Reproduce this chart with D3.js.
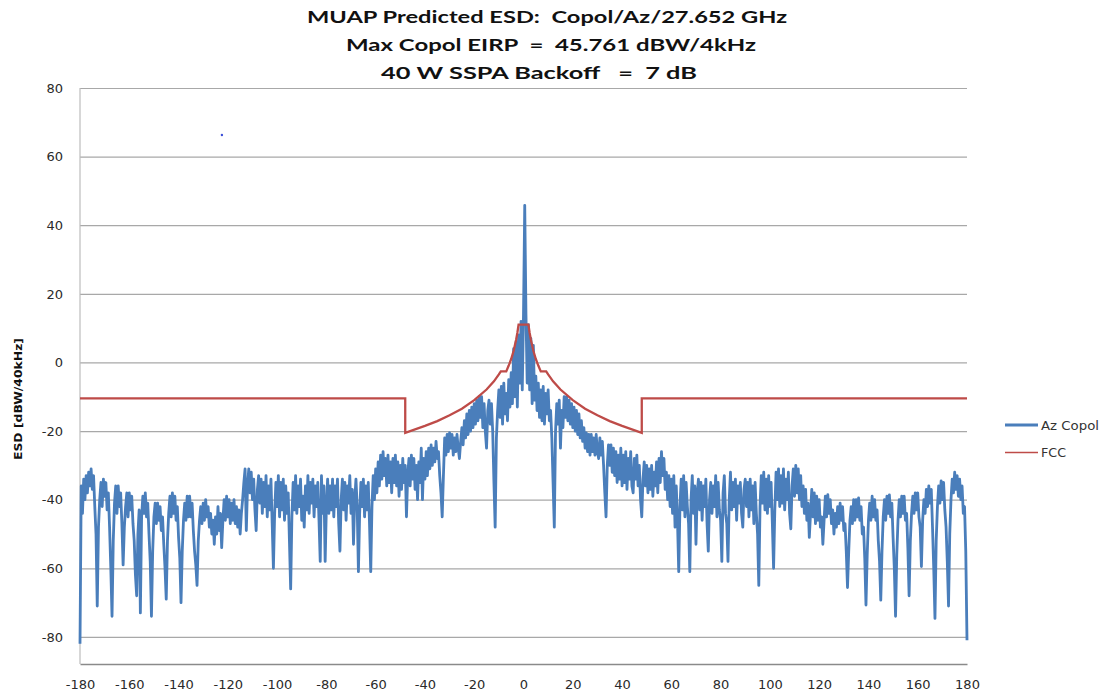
<!DOCTYPE html>
<html><head><meta charset="utf-8">
<script src="https://cdn.jsdelivr.net/npm/d3@7"></script>
<style>body{margin:0;background:#fff}svg{display:block}</style>
</head><body>
<svg id="chart" width="1102" height="698"></svg>
<script>
// ---------------- DATA ----------------
const titleLines = ["MUAP Predicted ESD:  Copol/Az/27.652 GHz", "Max Copol EIRP  =  45.761 dBW/4kHz", "40 W SSPA Backoff   =  7 dB"];
const yAxisTitle = "ESD [dBW/40kHz]";
const yTicks = [80, 60, 40, 20, 0, -20, -40, -60, -80];
const xTicks = [-180, -160, -140, -120, -100, -80, -60, -40, -20, 0, 20, 40, 60, 80, 100, 120, 140, 160, 180];
const seriesNames = ["Az Copol", "FCC"];

// FCC mask (angle deg, dBW/40kHz)
const fccAngles = [-180, -48, -48, -40, -35, -30, -25, -20, -15, -12, -10, -9.2, -7, -6, -5, -4, -3, -2.5, -2, 2, 2.5, 3, 4, 5, 6, 7, 9.2, 10, 12, 15, 20, 25, 30, 35, 40, 48, 48, 180];
const fccValues = [-10.5, -10.5, -20.5, -18.5, -17.1, -15.4, -13.5, -11.0, -7.9, -5.5, -3.5, -2.6, -2.6, -0.9, 1.0, 3.4, 6.6, 8.6, 11.0, 11.0, 8.6, 6.6, 3.4, 1.0, -0.9, -2.6, -2.6, -3.5, -5.5, -7.9, -11.0, -13.5, -15.4, -17.1, -18.5, -20.5, -10.5, -10.5];

const azCopol = [
[-180,-82],[-179.5,-36],[-179,-44],[-178.5,-34],[-178,-40],[-177.5,-33],[-177,-38],[-176.5,-32],[-176,-36],[-175.5,-31],
[-175,-37],[-174.5,-33],[-174,-42],[-173.5,-50],[-173,-71],[-172.5,-48],[-172,-40],[-171.5,-35],[-171,-42],[-170.5,-34],
[-170,-39],[-169.5,-35],[-169,-43],[-168.5,-38],[-168,-48],[-167.5,-60],[-167,-74],[-166.5,-52],[-166,-41],[-165.5,-36],
[-165,-44],[-164.5,-36],[-164,-42],[-163.5,-38],[-163,-47],[-162.5,-59],[-162,-48],[-161.5,-42],[-161,-38],[-160.5,-45],
[-160,-38],[-159.5,-43],[-159,-39],[-158.5,-47],[-158,-52],[-157.5,-62],[-157,-68],[-156.5,-50],[-156,-43],[-155.5,-73],
[-155,-45],[-154.5,-39],[-154,-44],[-153.5,-38],[-153,-45],[-152.5,-41],[-152,-50],[-151.5,-58],[-151,-74],[-150.5,-55],
[-150,-45],[-149.5,-41],[-149,-47],[-148.5,-41],[-148,-46],[-147.5,-42],[-147,-49],[-146.5,-45],[-146,-53],[-145.5,-60],
[-145,-69],[-144.5,-52],[-144,-44],[-143.5,-39],[-143,-45],[-142.5,-38],[-142,-44],[-141.5,-39],[-141,-46],[-140.5,-42],
[-140,-51],[-139.5,-57],[-139,-70],[-138.5,-55],[-138,-46],[-137.5,-41],[-137,-46],[-136.5,-39],[-136,-45],[-135.5,-39],
[-135,-45],[-134.5,-41],[-134,-49],[-133.5,-55],[-133,-59],[-132.5,-65],[-132,-52],[-131.5,-46],[-131,-42],[-130.5,-47],
[-130,-41],[-129.5,-46],[-129,-40],[-128.5,-45],[-128,-42],[-127.5,-48],[-127,-44],[-126.5,-50],[-126,-46],[-125.5,-53],
[-125,-45],[-124.5,-50],[-124,-42],[-123.5,-49],[-123,-44],[-122.5,-54],[-122,-46],[-121.5,-40],[-121,-46],[-120.5,-39],
[-120,-45],[-119.5,-40],[-119,-47],[-118.5,-41],[-118,-46],[-117.5,-40],[-117,-47],[-116.5,-42],[-116,-48],[-115.5,-43],
[-115,-50],[-114.5,-44],[-114,-40],[-113.5,-35],
[-113,-31],[-112.5,-49],[-112,-36],[-111.5,-31],[-111,-38],[-110.5,-32],[-110,-40],[-109.5,-34],[-109,-43],[-108.5,-49],
[-108,-37],[-107.5,-33],[-107,-41],[-106.5,-34],[-106,-44],[-105.5,-35],[-105,-42],[-104.5,-33],[-104,-45],[-103.5,-36],
[-103,-43],[-102.5,-34],[-102,-47],[-101.5,-60],[-101,-44],[-100.5,-35],[-100,-42],[-99.5,-33],[-99,-45],[-98.5,-35],
[-98,-43],[-97.5,-34],[-97,-46],[-96.5,-36],[-96,-44],[-95.5,-38],[-95,-52],[-94.5,-66],[-94,-45],[-93.5,-35],
[-93,-43],[-92.5,-33],[-92,-44],[-91.5,-36],[-91,-42],[-90.5,-34],[-90,-46],[-89.5,-39],[-89,-48],[-88.5,-36],
[-88,-43],[-87.5,-33],[-87,-44],[-86.5,-35],[-86,-41],[-85.5,-34],[-85,-45],[-84.5,-36],[-84,-42],[-83.5,-35],
[-83,-46],[-82.5,-58],[-82,-33],[-81.5,-44],[-81,-36],[-80.5,-58],[-80,-42],[-79.5,-34],[-79,-44],[-78.5,-36],
[-78,-43],[-77.5,-34],[-77,-45],[-76.5,-36],[-76,-42],[-75.5,-34],[-75,-47],[-74.5,-55],[-74,-40],[-73.5,-34],
[-73,-43],[-72.5,-35],[-72,-46],[-71.5,-36],[-71,-41],[-70.5,-33],[-70,-44],[-69.5,-37],[-69,-53],[-68.5,-40],
[-68,-34],[-67.5,-42],[-67,-61],[-66.5,-44],[-66,-35],[-65.5,-42],[-65,-34],[-64.5,-45],[-64,-36],[-63.5,-43],
[-63,-35],[-62.5,-47],[-62,-61],[-61.5,-42],[-61,-33],[-60.5,-40],[-60,-31],[-59.5,-38],[-59,-29],[-58.5,-36],
[-58,-27],[-57.5,-34],
[-57,-26],[-56.5,-33],[-56,-28],[-55.5,-36],[-55,-27],[-54.5,-35],[-54,-29],[-53.5,-38],[-53,-28],[-52.5,-35],
[-52,-27],[-51.5,-36],[-51,-29],[-50.5,-39],[-50,-30],[-49.5,-37],[-49,-28],[-48.5,-35],[-48,-30],[-47.5,-45],
[-47,-33],[-46.5,-28],[-46,-36],[-45.5,-27],[-45,-34],[-44.5,-28],[-44,-37],[-43.5,-30],[-43,-40],[-42.5,-29],
[-42,-35],[-41.5,-25],[-41,-40],[-40.5,-28],[-40,-34],[-39.5,-26],[-39,-33],[-38.5,-25],[-38,-31],[-37.5,-24],
[-37,-30],[-36.5,-25],[-36,-29],[-35.5,-23],[-35,-28],[-34.5,-26],[-34,-33],[-33.5,-38],[-33,-45],[-32.5,-33],
[-32,-22],[-31.5,-27],[-31,-21],[-30.5,-26],[-30,-20.5],[-29.5,-25],[-29,-21],[-28.5,-27],[-28,-22],[-27.5,-26],
[-27,-21],[-26.5,-25],[-26,-28],[-25.5,-23],[-25,-19],[-24.5,-24],[-24,-17],[-23.5,-22],[-23,-15],[-22.5,-21],
[-22,-14],[-21.5,-20],[-21,-13],[-20.5,-19],[-20,-12],[-19.5,-18],[-19,-11],[-18.5,-17],[-18,-10],[-17.5,-16],
[-17,-10],[-16.5,-19],[-16,-12],[-15.5,-20],[-15,-25],[-14.5,-14],[-14,-11],[-13.5,-18],[-13,-12],[-12.5,-20],
[-12,-35],[-11.5,-48],[-11,-22],[-10.5,-14],[-10,-8],[-9.5,-16],[-9,-7],[-8.5,-18],[-8,-6],[-7.5,-15],
[-7,-9],[-6.5,-17],[-6,-5],[-5.5,-13],[-5,-3],
[-4.5,-12],[-4,4],[-3.5,-10],[-3,6],[-2.5,-13],[-2,8],[-1.5,-6],[-1,12],[-0.5,-8],[0,14],
[0.5,45.8],[1,14],[1.5,-6],[2,11],[2.5,-8],[3,7],[3.5,-12],[4,5],[4.5,-11],
[5,-4],[5.5,-14],[6,-6],[6.5,-16],[7,-8],[7.5,-17],[8,-7],[8.5,-18],[9,-9],[9.5,-15],
[10,-8],[10.5,-17],[11,-14],[11.5,-22],[12,-35],[12.5,-48],[13,-20],[13.5,-12],[14,-18],[14.5,-11],
[15,-25],[15.5,-14],[16,-19],[16.5,-10],[17,-16],[17.5,-10],[18,-17],[18.5,-11],[19,-18],[19.5,-12],
[20,-19],[20.5,-13],[21,-20],[21.5,-14],[22,-21],[22.5,-15],[23,-22],[23.5,-17],[24,-23],[24.5,-19],
[25,-25],[25.5,-20.5],[26,-26],[26.5,-21],[27,-27],[27.5,-21],[28,-26],[28.5,-22],[29,-27],[29.5,-21],
[30,-26],[30.5,-28],[31,-22],[31.5,-27],[32,-23],
[32.5,-30],[33,-38],[33.5,-45],[34,-30],[34.5,-24],[35,-30],[35.5,-24],[36,-32],[36.5,-25],[37,-33],
[37.5,-26],[38,-35],[38.5,-27],[39,-34],[39.5,-25],[40,-36],[40.5,-27],[41,-35],[41.5,-26],[42,-37],
[42.5,-28],[43,-34],[43.5,-26],[44,-36],[44.5,-38],[45,-28],[45.5,-34],[46,-27],[46.5,-36],[47,-30],
[47.5,-40],[48,-45],[48.5,-34],[49,-29],[49.5,-36],[50,-30],[50.5,-38],[51,-31],[51.5,-37],[52,-30],
[52.5,-39],[53,-32],[53.5,-36],[54,-29],[54.5,-38],[55,-28],[55.5,-35],[56,-26],[56.5,-33],[57,-28],
[57.5,-37],
[58,-32],[58.5,-40],[59,-33],[59.5,-42],[60,-34],[60.5,-44],[61,-33],[61.5,-48],[62,-36],[62.5,-46],
[63,-61],[63.5,-42],[64,-34],[64.5,-43],[65,-33],[65.5,-45],[66,-35],[66.5,-42],[67,-47],[67.5,-61],
[68,-40],[68.5,-33],[69,-44],[69.5,-36],[70,-53],[70.5,-38],[71,-34],[71.5,-43],[72,-35],[72.5,-46],
[73,-36],[73.5,-42],[74,-34],[74.5,-47],[75,-55],[75.5,-40],[76,-35],[76.5,-44],[77,-36],[77.5,-42],
[78,-33],[78.5,-45],[79,-35],[79.5,-43],[80,-46],[80.5,-58],[81,-38],[81.5,-33],[82,-44],[82.5,-47],
[83,-58],[83.5,-40],[84,-32],[84.5,-43],[85,-35],[85.5,-42],[86,-34],[86.5,-46],[87,-36],[87.5,-41],
[88,-35],[88.5,-44],[89,-48],[89.5,-37],[90,-34],[90.5,-42],[91,-35],[91.5,-45],[92,-34],[92.5,-43],
[93,-36],[93.5,-47],[94,-35],[94.5,-44],[95,-50],[95.5,-65],[96,-42],[96.5,-33],[97,-41],[97.5,-32],
[98,-43],[98.5,-34],[99,-44],[99.5,-33],[100,-42],[100.5,-35],[101,-47],[101.5,-60],[102,-43],[102.5,-32],
[103,-40],[103.5,-31],[104,-42],[104.5,-33],[105,-41],[105.5,-31],[106,-43],[106.5,-34],[107,-40],[107.5,-32],
[108,-44],[108.5,-48.5],[109,-36],[109.5,-31],[110,-39],[110.5,-30],[111,-38],[111.5,-31],[112,-40],[112.5,-33],
[113,-42],
[113.5,-36],[114,-44],[114.5,-37],[115,-46],[115.5,-41],[116,-51],[116.5,-44],[117,-37],[117.5,-45],[118,-38],
[118.5,-47],[119,-39],[119.5,-46],[120,-40],[120.5,-48],[121,-45],[121.5,-53],[122,-46],[122.5,-39],[123,-45],
[123.5,-38.5],[124,-44],[124.5,-40],[125,-47],[125.5,-43],[126,-50],[126.5,-44],[127,-48],[127.5,-42],[128,-47],
[128.5,-41],[129,-46],[129.5,-42],[130,-49],[130.5,-47],[131,-55],[131.5,-65.6],[132,-55],[132.5,-46],[133,-42],
[133.5,-47],[134,-40],[134.5,-46],[135,-40],[135.5,-45],[136,-39.5],[136.5,-46],[137,-42],[137.5,-50],[138,-48],
[138.5,-57],[139,-70.7],[139.5,-56],[140,-46],[140.5,-41],[141,-46],[141.5,-39],[142,-45],[142.5,-40],[143,-46],
[143.5,-43],[144,-52],[144.5,-58],[145,-69.3],[145.5,-55],[146,-45],[146.5,-40],[147,-46],[147.5,-39],[148,-44],
[148.5,-38.6],[149,-45],[149.5,-41],[150,-51],[150.5,-60],[151,-74],[151.5,-56],[152,-46],[152.5,-40],[153,-45],
[153.5,-39],[154,-44],[154.5,-39],[155,-46],[155.5,-44],[156,-54],[156.5,-68],[157,-52],[157.5,-44],[158,-39],
[158.5,-44],[159,-38],[159.5,-43],[160,-38],[160.5,-45],[161,-48],[161.5,-59.5],[162,-46],[162.5,-40],[163,-44],
[163.5,-37],[164,-42],[164.5,-36],[165,-41],[165.5,-37],[166,-48],[166.5,-60],[167,-74.6],[167.5,-52],[168,-42],
[168.5,-36],[169,-41],[169.5,-34.5],[170,-40],[170.5,-35],[171,-43],[171.5,-48],[172,-58],[172.5,-71],[173,-50],
[173.5,-40],[174,-34],[174.5,-38],[175,-32],[175.5,-37],[176,-33],[176.5,-39],[177,-34],[177.5,-40],[178,-36],
[178.5,-44],[179,-42],[179.5,-55],[180,-81]
];
// isolated stray sample visible in the upper-left of the plot
const strayPoints = [[-122.4, 66.3]];

// ---------------- CHART ----------------
const svg = d3.select("#chart");
const plot = {left: 80, right: 967, top: 88, bottom: 664};
const x = d3.scaleLinear().domain([-180, 180]).range([plot.left, plot.right]);
const y = d3.scaleLinear().domain([-87.9, 80]).range([plot.bottom, plot.top]);
const BLUE = "#4a7ebb", RED = "#be4b48";
const tickFont = "'DejaVu Sans', sans-serif";

// Titles
const titleGeom = [{cx: 547, base: 23, len: 480}, {cx: 551, base: 51, len: 410}, {cx: 539, base: 79, len: 316}];
svg.append("g").selectAll("text").data(titleLines).join("text")
  .attr("x", (d, i) => titleGeom[i].cx).attr("y", (d, i) => titleGeom[i].base)
  .attr("text-anchor", "middle")
  .attr("textLength", (d, i) => titleGeom[i].len).attr("lengthAdjust", "spacingAndGlyphs")
  .style("font-family", "Lato, 'Open Sans', sans-serif").style("font-weight", "bold")
  .style("font-size", "17.5px").style("fill", "#111")
  .style("white-space", "pre").attr("xml:space", "preserve")
  .text(d => d);

// Y axis with gridlines
const yAxis = d3.axisLeft(y).tickValues(yTicks).tickSize(-(plot.right - plot.left)).tickPadding(17).tickFormat(d3.format("d"));
const gy = svg.append("g").attr("transform", `translate(${plot.left},0)`).call(yAxis);
gy.select(".domain").remove();
gy.selectAll(".tick line").attr("stroke", "#a8a8a8").attr("stroke-width", 1.2);
gy.selectAll(".tick text").style("font-family", tickFont).style("font-size", "13px").style("fill", "#2a2a2a")
  .text(d => d < 0 ? "-" + Math.abs(d) : d);

// left axis line
svg.append("line").attr("x1", plot.left).attr("x2", plot.left).attr("y1", plot.top).attr("y2", plot.bottom)
  .attr("stroke", "#bdbdbd").attr("stroke-width", 1.2);

// X axis
const xAxis = d3.axisBottom(x).tickValues(xTicks).tickSize(0).tickPadding(16).tickFormat(d => d < 0 ? "-" + Math.abs(d) : d);
const gx = svg.append("g").attr("transform", `translate(0,${plot.bottom})`).call(xAxis);
gx.select(".domain").attr("stroke", "#8a8a8a").attr("stroke-width", 1.5);
gx.selectAll(".tick text").style("font-family", tickFont).style("font-size", "13px").style("fill", "#2a2a2a");

// Y axis title
svg.append("text").attr("transform", "translate(21.5,399) rotate(-90)")
  .attr("text-anchor", "middle").attr("textLength", 122).attr("lengthAdjust", "spacingAndGlyphs")
  .style("font-family", tickFont).style("font-weight", "bold").style("font-size", "10px").style("fill", "#111")
  .text(yAxisTitle);

// Series lines
const line = d3.line().x(d => x(d[0])).y(d => y(d[1]));
svg.append("path").datum(azCopol).attr("d", line)
  .attr("fill", "none").attr("stroke", BLUE).attr("stroke-width", 2.8).attr("stroke-linejoin", "round");
svg.append("path").datum(fccAngles.map((a, i) => [a, fccValues[i]])).attr("d", line)
  .attr("fill", "none").attr("stroke", RED).attr("stroke-width", 2.3).attr("stroke-linejoin", "miter");
svg.append("g").selectAll("circle").data(strayPoints).join("circle")
  .attr("cx", d => x(d[0])).attr("cy", d => y(d[1])).attr("r", 1.2).attr("fill", "#3b4fd8");

// Legend
const legend = [{name: seriesNames[0], color: BLUE, w: 3, yy: 425, len: 58}, {name: seriesNames[1], color: RED, w: 1.6, yy: 452.5, len: 25}];
const lg = svg.append("g").selectAll("g").data(legend).join("g");
lg.append("line").attr("x1", 1005).attr("x2", 1038).attr("y1", d => d.yy).attr("y2", d => d.yy)
  .attr("stroke", d => d.color).attr("stroke-width", d => d.w);
lg.append("text").attr("x", 1041).attr("y", d => d.yy + 4.5).attr("textLength", d => d.len).attr("lengthAdjust", "spacingAndGlyphs")
  .style("font-family", tickFont).style("font-size", "12.5px").style("fill", "#333").text(d => d.name);
</script>
</body></html>
